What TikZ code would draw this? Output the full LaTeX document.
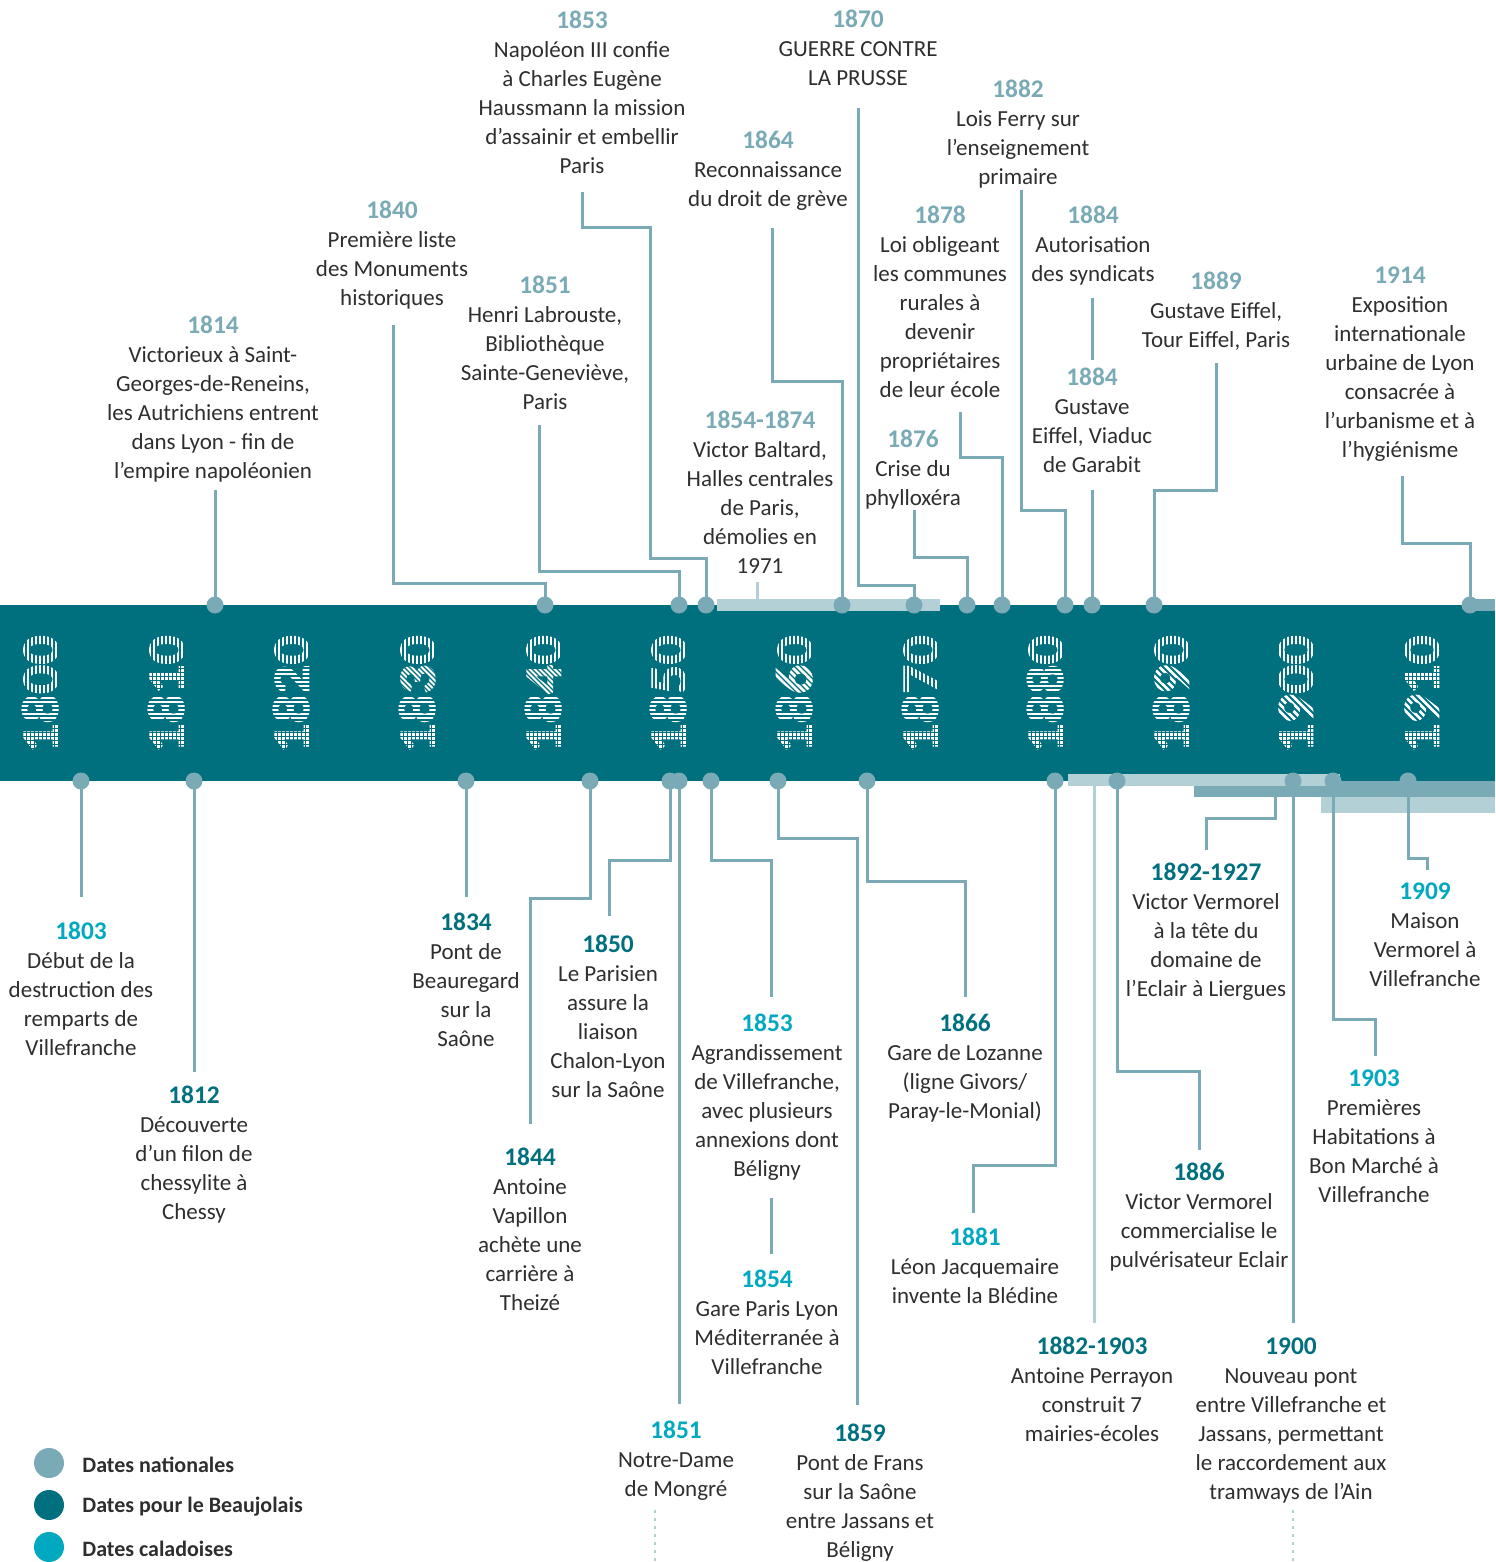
\documentclass[tikz,border=0pt]{standalone}
\usepackage{fontspec}
\setmainfont{Carlito}
\newfontfamily\decfont{Carlito}[BoldFeatures={FakeBold=2}]
\definecolor{band}{HTML}{00707E}
\definecolor{nat}{HTML}{7AAAB6}
\definecolor{beau}{HTML}{00707E}
\definecolor{cal}{HTML}{00A9C0}
\definecolor{lightbar}{HTML}{B3D0D7}
\definecolor{txt}{HTML}{2E2E2E}
\newcommand{\yr}[2]{\textcolor{#1}{\fontsize{12.7}{14.5}\bfseries\selectfont #2}}
\tikzset{
  conn/.style={draw=nat, line width=1.5pt},
  lconn/.style={draw=lightbar, line width=1.5pt},
  dotted line/.style={draw=lightbar, line width=1pt, dash pattern=on 1.5pt off 2.5pt},
  dot/.style={circle, fill=nat, minimum size=8.5pt, inner sep=0pt},
  ev/.style={align=center, anchor=north, inner sep=0pt, text=txt, font=\fontsize{11.5}{14.5}\selectfont},
  dec/.style={rotate=90, inner sep=0pt, text=white, font=\decfont\fontsize{29}{29}\bfseries\selectfont},
  stripe/.style={draw=band, line width=0.6pt},
  grid stripe/.style={draw=band, line width=0.45pt},
  legdot/.style={circle, minimum size=15pt, inner sep=0pt},
  legtxt/.style={anchor=west, inner sep=0pt, text=txt, font=\fontsize{11}{14}\bfseries\selectfont},
}
% pattern over one digit cell of a decade label: #1 x centre, #2 index from bottom, #3 digit
\newcommand{\cellpat}[3]{%
  \begin{scope}
    \clip ({#1-26},{752.5-29.3*(#2+1)}) rectangle ({#1+26},{752.5-29.3*#2});
    \ifcase#3
      \foreach \k in {-26,-22,...,26} \draw[stripe] ({#1+\k},620) -- ({#1+\k},770);% 0
    \or
      \foreach \k in {-26,-22,...,26} \draw[grid stripe] ({#1+\k},620) -- ({#1+\k},770);% 1
      \foreach \k in {620,624,...,770} \draw[grid stripe] ({#1-30},\k) -- ({#1+30},\k);
    \or
      \foreach \k in {620,624,...,770} \draw[stripe] ({#1-30},\k) -- ({#1+30},\k);% 2
    \or
      \foreach \k in {-150,-145,...,30} \draw[stripe] ({#1+\k},630) -- ++(150,150);% 3
    \or
      \foreach \k in {-150,-145,...,30} \draw[stripe] ({#1+\k},630) -- ++(150,150);% 4
    \or
      \foreach \k in {-26,-22,...,26} \draw[stripe] ({#1+\k},620) -- ({#1+\k},770);% 5
    \or
      \foreach \k in {-150,-144,...,30} \draw[stripe] ({#1+\k},630) -- ++(150,150);% 6
    \or
      \foreach \k in {-26,-22,...,26} \draw[stripe] ({#1+\k},620) -- ({#1+\k},770);% 7
    \or
      \foreach \k in {620,624,...,770} \draw[stripe] ({#1-30},\k) -- ({#1+30},\k);% 8
    \or
      \foreach \k in {-150,-143,...,30} \draw[stripe, line width=1pt] ({#1+\k},630) -- ++(150,150);% 9
    \fi
  \end{scope}}
\begin{document}
\begin{tikzpicture}[x=0.5pt,y=-0.5pt]
\useasboundingbox (0,0) rectangle (1495,1562);
% band
\fill[band] (0,605) rectangle (1495,781);

% decade labels
\foreach \d/\x/\a/\b/\c in {1800/40/8/0/0,1810/166/8/1/0,1820/291/8/2/0,1830/417/8/3/0,1840/543/8/4/0,1850/668/8/5/0,1860/794/8/6/0,1870/920/8/7/0,1880/1045/8/8/0,1890/1171/8/9/0,1900/1296/9/0/0,1910/1422/9/1/0}{
  \node[dec] (dec\d) at (\x,694) {\scalebox{1}[0.9]{\d}};
  \cellpat{\x}{0}{1}
  \cellpat{\x}{1}{\a}
  \cellpat{\x}{2}{\b}
  \cellpat{\x}{3}{\c}
}

% period bars
\fill[lightbar] (717,599) rectangle (940,611);
\fill[nat] (1470,599) rectangle (1495,611);
\fill[lightbar] (1068,774) rectangle (1340,786);
\fill[nat] (1194,786) rectangle (1495,797);
\fill[nat] (1340,781) rectangle (1495,786);
\fill[lightbar] (1321,797) rectangle (1495,813);
\coordinate (b1854) at (757,599);
\coordinate (b1882) at (1094,786);
\coordinate (b1892) at (1275,797);

% ---------- top events ----------
\node[ev] (t1814) at (213,324-8) {\yr{nat}{1814}\\Victorieux à Saint-\\Georges-de-Reneins,\\les Autrichiens entrent\\dans Lyon - fin de\\l’empire napoléonien};
\node[ev] (t1840) at (392,209-8) {\yr{nat}{1840}\\Première liste\\des Monuments\\historiques};
\node[ev] (t1851) at (545,284-8) {\yr{nat}{1851}\\Henri Labrouste,\\Bibliothèque\\Sainte-Geneviève,\\Paris};
\node[ev] (t1853) at (582,19-8) {\yr{nat}{1853}\\Napoléon III confie\\à Charles Eugène\\Haussmann la mission\\d’assainir et embellir\\Paris};
\node[ev] (t1854) at (760,419-8) {\yr{nat}{1854-1874}\\Victor Baltard,\\Halles centrales\\de Paris,\\démolies en\\1971};
\node[ev] (t1864) at (768,139-8) {\yr{nat}{1864}\\Reconnaissance\\du droit de grève};
\node[ev] (t1870) at (858,18-8) {\yr{nat}{1870}\\GUERRE CONTRE\\LA PRUSSE};
\node[ev] (t1876) at (913,438-8) {\yr{nat}{1876}\\Crise du\\phylloxéra};
\node[ev] (t1878) at (940,214-8) {\yr{nat}{1878}\\Loi obligeant\\les communes\\rurales à\\devenir\\propriétaires\\de leur école};
\node[ev] (t1882) at (1018,88-8) {\yr{nat}{1882}\\Lois Ferry sur\\l’enseignement\\primaire};
\node[ev] (t1884a) at (1093,214-8) {\yr{nat}{1884}\\Autorisation\\des syndicats};
\node[ev] (t1884b) at (1092,376-8) {\yr{nat}{1884}\\Gustave\\Eiffel, Viaduc\\de Garabit};
\node[ev] (t1889) at (1216,280-8) {\yr{nat}{1889}\\Gustave Eiffel,\\Tour Eiffel, Paris};
\node[ev] (t1914) at (1400,274-8) {\yr{nat}{1914}\\Exposition\\internationale\\urbaine de Lyon\\consacrée à\\l’urbanisme et à\\l’hygiénisme};

% top dots
\foreach \n/\x in {1814/215,1840/545,1851/679,1853/706,1864/842,1870/914,1876/967,1878/1002,1882/1065,1884/1092,1889/1154,1914/1470}
  \coordinate (d\n) at (\x,605);
% connector starts (top)
\coordinate (s1814) at (215,490);
\coordinate (s1840) at (393,325);
\coordinate (s1851) at (539,425);
\coordinate (s1853) at (582,192);
\coordinate (s1854) at (757,582);
\coordinate (s1864) at (772,228);
\coordinate (s1870) at (858,108);
\coordinate (s1876) at (914,510);
\coordinate (s1878) at (960,412);
\coordinate (s1882) at (1021,190);
\coordinate (s1884a) at (1092,298);
\coordinate (e1884a) at (1092,360);
\coordinate (s1884) at (1092,490);
\coordinate (s1889) at (1216,363);
\coordinate (s1914) at (1402,476);

\draw[conn] (s1814) -- (d1814);
\draw[conn] (s1840) |- (d1840 |- 0,583) -- (d1840);
\draw[conn] (s1851) |- (d1851 |- 0,571) -- (d1851);
\draw[conn] (s1853) |- (650,228) |- (d1853 |- 0,558) -- (d1853);
\draw[lconn] (s1854) -- (b1854);
\draw[conn] (s1864) |- (d1864 |- 0,381) -- (d1864);
\draw[conn] (s1870) |- (d1870 |- 0,585) -- (d1870);
\draw[conn] (s1876) |- (d1876 |- 0,557) -- (d1876);
\draw[conn] (s1878) |- (d1878 |- 0,457) -- (d1878);
\draw[conn] (s1882) |- (d1882 |- 0,510) -- (d1882);
\draw[conn] (s1884a) -- (e1884a);
\draw[conn] (s1884) -- (d1884);
\draw[conn] (s1889) |- (d1889 |- 0,490) -- (d1889);
\draw[conn] (s1914) |- (d1914 |- 0,543) -- (d1914);

% ---------- bottom events ----------
\node[ev] (t1803) at (81,930-8) {\yr{cal}{1803}\\Début de la\\destruction des\\remparts de\\Villefranche};
\node[ev] (t1812) at (194,1094-8) {\yr{beau}{1812}\\Découverte\\d’un filon de\\chessylite à\\Chessy};
\node[ev] (t1834) at (466,921-8) {\yr{beau}{1834}\\Pont de\\Beauregard\\sur la\\Saône};
\node[ev] (t1844) at (530,1156-8) {\yr{beau}{1844}\\Antoine\\Vapillon\\achète une\\carrière à\\Theizé};
\node[ev] (t1850) at (608,943-8) {\yr{beau}{1850}\\Le Parisien\\assure la\\liaison\\Chalon-Lyon\\sur la Saône};
\node[ev] (t1851b) at (676,1429-8) {\yr{cal}{1851}\\Notre-Dame\\de Mongré};
\node[ev] (t1853b) at (767,1022-8) {\yr{cal}{1853}\\Agrandissement\\de Villefranche,\\avec plusieurs\\annexions dont\\Béligny};
\node[ev] (t1854b) at (767,1278-8) {\yr{cal}{1854}\\Gare Paris Lyon\\Méditerranée à\\Villefranche};
\node[ev] (t1859) at (860,1432-8) {\yr{beau}{1859}\\Pont de Frans\\sur la Saône\\entre Jassans et\\Béligny};
\node[ev] (t1866) at (965,1022-8) {\yr{beau}{1866}\\Gare de Lozanne\\(ligne Givors/\\Paray-le-Monial)};
\node[ev] (t1881) at (975,1236-8) {\yr{cal}{1881}\\Léon Jacquemaire\\invente la Blédine};
\node[ev] (t1882b) at (1092,1345-8) {\yr{beau}{1882-1903}\\Antoine Perrayon\\construit 7\\mairies-écoles};
\node[ev] (t1892) at (1206,871-8) {\yr{beau}{1892-1927}\\Victor Vermorel\\à la tête du\\domaine de\\l’Eclair à Liergues};
\node[ev] (t1886) at (1199,1171-8) {\yr{beau}{1886}\\Victor Vermorel\\commercialise le\\pulvérisateur Eclair};
\node[ev] (t1900) at (1291,1345-8) {\yr{beau}{1900}\\Nouveau pont\\entre Villefranche et\\Jassans, permettant\\le raccordement aux\\tramways de l’Ain};
\node[ev] (t1903) at (1374,1077-8) {\yr{cal}{1903}\\Premières\\Habitations à\\Bon Marché à\\Villefranche};
\node[ev] (t1909) at (1425,890-8) {\yr{cal}{1909}\\Maison\\Vermorel à\\Villefranche};

\foreach \n/\x in {1803/81,1812/194,1834/466,1844/590,1850/670,1851b/679,1853b/711,1859/778,1866/867,1881/1055,1886/1117,1900/1293,1903/1333,1909/1408}
  \coordinate (d\n) at (\x,781);
% connector ends (bottom)
\coordinate (e1803) at (81,897);
\coordinate (e1812) at (194,1072);
\coordinate (e1834) at (466,897);
\coordinate (e1844) at (530,1124);
\coordinate (e1850) at (609,916);
\coordinate (e1851b) at (679,1404);
\coordinate (e1853b) at (771,997);
\coordinate (s1854b) at (771,1198);
\coordinate (e1854b) at (771,1254);
\coordinate (e1859) at (857,1405);
\coordinate (e1866) at (965,997);
\coordinate (e1881) at (973,1213);
\coordinate (e1882b) at (1094,1323);
\coordinate (e1892) at (1206,850);
\coordinate (e1886) at (1199,1150);
\coordinate (e1900) at (1293,1323);
\coordinate (e1903) at (1375,1056);
\coordinate (e1909) at (1427,870);
\coordinate (o1851) at (655,1510);
\coordinate (p1851) at (655,1562);
\coordinate (o1900) at (1293,1510);
\coordinate (p1900) at (1293,1562);

\draw[conn] (d1803) -- (e1803);
\draw[conn] (d1812) -- (e1812);
\draw[conn] (d1834) -- (e1834);
\draw[conn] (d1844) |- (e1844 |- 0,898) -- (e1844);
\draw[conn] (d1850) |- (e1850 |- 0,860) -- (e1850);
\draw[conn] (d1851b) -- (e1851b);
\draw[conn] (d1853b) |- (e1853b |- 0,860) -- (e1853b);
\draw[conn] (s1854b) -- (e1854b);
\draw[conn] (d1859) |- (e1859 |- 0,838) -- (e1859);
\draw[conn] (d1866) |- (e1866 |- 0,881) -- (e1866);
\draw[conn] (d1881) |- (e1881 |- 0,1165) -- (e1881);
\draw[lconn] (b1882) -- (e1882b);
\draw[conn] (b1892) |- (e1892 |- 0,818) -- (e1892);
\draw[conn] (d1886) |- (e1886 |- 0,1071) -- (e1886);
\draw[conn] (d1900) -- (e1900);
\draw[conn] (d1903) |- (e1903 |- 0,1019) -- (e1903);
\draw[conn] (d1909) |- (e1909 |- 0,858) -- (e1909);
\draw[dotted line] (o1851) -- (p1851);
\draw[dotted line] (o1900) -- (p1900);

% dots
\foreach \n in {1814,1840,1851,1853,1864,1870,1876,1878,1882,1884,1889,1914,1803,1812,1834,1844,1850,1851b,1853b,1859,1866,1881,1886,1900,1903,1909}
  \node[dot] (dot\n) at (d\n) {};

% legend
\node[legdot, fill=nat] (l1) at (49,1463) {};
\node[legdot, fill=beau] (l2) at (49,1505) {};
\node[legdot, fill=cal] (l3) at (49,1547) {};
\node[legtxt] (lt1) at (82,1465) {Dates nationales};
\node[legtxt] (lt2) at (82,1507) {Dates pour le Beaujolais};
\node[legtxt] (lt3) at (82,1549) {Dates caladoises};
\end{tikzpicture}
\end{document}
